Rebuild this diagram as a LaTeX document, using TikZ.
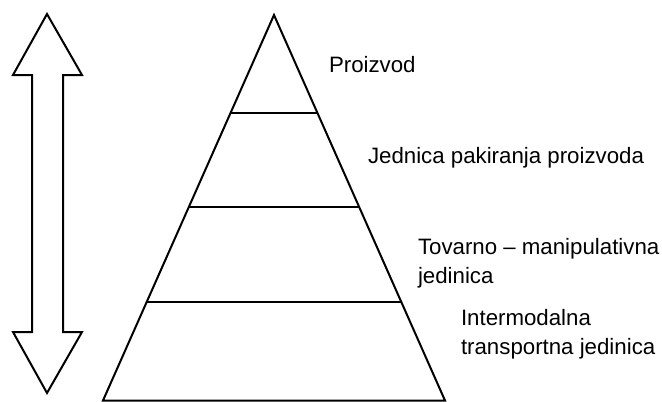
\documentclass[tikz,border=0pt]{standalone}
\usepackage{fontspec}
\setmainfont{Liberation Sans}

\tikzset{
  levellabel/.style={anchor=west, align=left, inner sep=0pt,
    font=\fontsize{16.7}{21.5}\selectfont}
}

\begin{document}
\begin{tikzpicture}[x=0.75pt,y=-0.75pt,line width=1.5pt]
        \useasboundingbox (0,0) rectangle (662,401);

        % Double arrow on the left
        \draw (47,14) -- (82,75) -- (63,75) -- (63,332) -- (82,332)
              -- (47,393) -- (13,332) -- (32,332) -- (32,75) -- (13,75) -- cycle;

        % Pyramid outline (base sits on the lower edge)
        \coordinate (apex) at (274,15);
        \coordinate (baseL) at (103,400.5);
        \coordinate (baseR) at (445,400.5);
        \draw (apex) -- (baseR) -- (baseL) -- cycle;

        % Level lines
        \draw (230.5,113) -- (317.5,113);
        \draw (188.8,207) -- (359.2,207);
        \draw (146.7,302) -- (401.3,302);

        % Labels
        \node[levellabel] (proizvod) at (328,65) {Proizvod};
        \node[levellabel] (pakiranje) at (367,158) {Jednica pakiranja proizvoda};
        \node[levellabel] (tovarno) at (417,263) {Tovarno -- manipulativna\\jedinica};
        \node[levellabel] (intermodal) at (460,334) {Intermodalna\\transportna jedinica};

\end{tikzpicture}
\end{document}
